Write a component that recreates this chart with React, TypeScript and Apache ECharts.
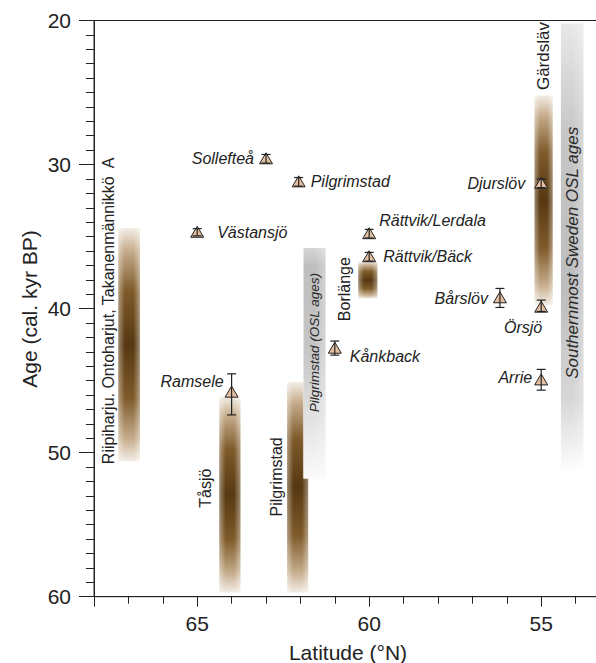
import React, { useEffect, useRef } from 'react';
import * as echarts from 'echarts';

// ---- Data ----
// Dated sites (triangles with error bars)
const siteNames = ['Sollefteå', 'Pilgrimstad', 'Västansjö', 'Rättvik/Lerdala', 'Rättvik/Bäck', 'Kånkback', 'Ramsele', 'Bårslöv', 'Örsjö', 'Djurslöv', 'Arrie'];
const siteLat = [63.0, 62.05, 65.0, 60.0, 60.0, 61.0, 64.0, 56.2, 55.0, 55.0, 55.0];
const siteAge = [29.6, 31.2, 34.7, 34.8, 36.4, 42.75, 45.8, 39.25, 39.9, 31.3, 44.95];
const siteErrMinus = [0.3, 0.3, 0.25, 0.3, 0.3, 0.5, 1.27, 0.65, 0.49, 0.3, 0.73];
const siteErrPlus = [0.3, 0.3, 0.25, 0.3, 0.3, 0.48, 1.58, 0.67, 0.3, 0.3, 0.71];

// Age ranges (brown gradient bars)
const rangeNames = ['Riipiharju. Ontoharjut, Takanenmännikkö  A', 'Tåsjö', 'Pilgrimstad', 'Borlänge', 'Gärdsläv'];
const rangeLat = [66.98, 64.05, 62.08, 60.04, 54.93];
const rangeAgeTop = [34.4, 46.1, 45.1, 36.75, 25.2];
const rangeAgeBottom = [50.6, 59.7, 59.7, 39.3, 39.75];
const rangeLabelAge = [40.16, 52.47, 51.68, 38.65, 22.47];

// OSL age ranges (grey gradient bars)
const oslNames = ['Pilgrimstad (OSL ages)', 'Southernmost Sweden OSL ages'];
const oslLat = [61.59, 54.1];
const oslAgeTop = [35.8, 20.2];
const oslAgeBottom = [51.8, 51.2];
const oslLabelAge = [42.36, 36.13];

// Axes
const latMin = 50;
const latMax = 68;
const latTickLabels = [65, 60, 55];
const ageMin = 20;
const ageMax = 60;

// ---- Style / placement (px) ----
const FONT = 'Liberation Sans, Arial, Helvetica, sans-serif';
const INK = '#222';
const PX_PER_DEG = 34.4;
const rangeWidthPx = [21.5, 21, 21, 19, 18];
const rangeLabelDx = [-21, -24, -21, -23, 0];
const rangeLabelSize = [16, 16, 16, 16, 17];
const oslWidthPx = [22, 22.5];
const oslLabelSize = [13.5, 17];
// label placement for sites: [dx, dy, align]
const sitePlacement: [number, number, string][] = [
  [-12, 0, 'right'],
  [12, 0, 'left'],
  [20, 0, 'left'],
  [10, -13, 'left'],
  [14, 0, 'left'],
  [15, 8, 'left'],
  [-8, -11, 'right'],
  [-12, 1, 'right'],
  [1, 20, 'right'],
  [-16, 0, 'right'],
  [-9, -2, 'right'],
];

const brownStops = [
  { offset: 0, color: '#f3ede5' },
  { offset: 0.1, color: '#c4ab8a' },
  { offset: 0.27, color: '#7f5b2b' },
  { offset: 0.5, color: '#573811' },
  { offset: 0.73, color: '#7f5b2b' },
  { offset: 0.9, color: '#c4ab8a' },
  { offset: 1, color: '#f3ede5' },
];
const greyStops = [
  [
    { offset: 0, color: '#d6d6d6' },
    { offset: 0.08, color: '#bebebe' },
    { offset: 0.45, color: '#c6c6c6' },
    { offset: 1, color: '#fbfbfb' },
  ],
  [
    { offset: 0, color: '#e8e8e8' },
    { offset: 0.25, color: '#c6c6c6' },
    { offset: 0.6, color: '#bdbdbd' },
    { offset: 0.85, color: '#d8d8d8' },
    { offset: 1, color: '#fdfdfd' },
  ],
];
const edgeStops = [
  { offset: 0, color: 'rgba(255,255,255,0.4)' },
  { offset: 0.3, color: 'rgba(255,255,255,0)' },
  { offset: 0.7, color: 'rgba(255,255,255,0)' },
  { offset: 1, color: 'rgba(255,255,255,0.4)' },
];

export default function App() {
  const ref = useRef<HTMLDivElement>(null);

  useEffect(() => {
    if (!ref.current) return;
    const chart = echarts.init(ref.current, undefined, { renderer: 'svg' });

    const rangeData = rangeLat.map((lat, i) => [lat, rangeAgeTop[i], rangeAgeBottom[i]]);
    const oslData = oslLat.map((lat, i) => [lat, oslAgeTop[i], oslAgeBottom[i]]);
    const siteData = siteLat.map((lat, i) => [lat, siteAge[i], siteAge[i] - siteErrMinus[i], siteAge[i] + siteErrPlus[i]]);
    const rangeLabelData = rangeLat.map((lat, i) => [lat, rangeLabelAge[i]]);
    const oslLabelData = oslLat.map((lat, i) => [lat, oslLabelAge[i]]);

    const axisCommon = {
      type: 'value' as const,
      min: latMin,
      max: latMax,
      inverse: true,
      splitLine: { show: false },
      axisLine: { show: true, lineStyle: { color: INK, width: 1 } },
    };

    chart.setOption({
      animation: false,
      backgroundColor: '#fff',
      grid: {
        left: 94,
        width: (latMax - latMin) * PX_PER_DEG,
        top: 20.5,
        height: 576.2,
        outerBoundsMode: 'none',
        containLabel: false,
        show: true,
        borderColor: INK,
        borderWidth: 1,
        backgroundColor: 'transparent',
      },
      xAxis: [
        {
          ...axisCommon,
          position: 'bottom',
          interval: 1,
          axisTick: { show: true, length: 7, lineStyle: { color: INK } },
          axisLabel: { show: false },
        },
        {
          ...axisCommon,
          position: 'bottom',
          interval: 5,
          axisTick: { show: true, length: 10, lineStyle: { color: INK } },
          axisLabel: {
            show: true,
            margin: 16,
            fontSize: 21,
            color: INK,
            fontFamily: FONT,
            formatter: (v: number) => (latTickLabels.indexOf(v) >= 0 ? String(v) : ''),
          },
        },
      ],
      yAxis: {
        type: 'value',
        min: ageMin,
        max: ageMax,
        interval: 10,
        inverse: true,
        splitLine: { show: false },
        axisLine: { show: true, lineStyle: { color: INK, width: 1 } },
        axisTick: { show: true, length: 15, lineStyle: { color: INK } },
        minorTick: { show: true, splitNumber: 10, length: 8, lineStyle: { color: INK } },
        minorSplitLine: { show: false },
        axisLabel: { margin: 23, fontSize: 21, color: INK, fontFamily: FONT },
      },
      graphic: [
        {
          type: 'text',
          x: 348,
          y: 652,
          style: { text: 'Latitude (°N)', font: `21px ${FONT}`, fill: INK, align: 'center', verticalAlign: 'middle' },
        },
        {
          type: 'text',
          x: 29,
          y: 309,
          rotation: Math.PI / 2,
          style: { text: 'Age (cal. kyr BP)', font: `21px ${FONT}`, fill: INK, align: 'center', verticalAlign: 'middle' },
        },
      ],
      series: [
        {
          type: 'custom',
          name: 'ranges',
          z: 2,
          xAxisIndex: 0,
          yAxisIndex: 0,
          data: rangeData,
          encode: { x: 0, y: [1, 2] },
          renderItem: (params: any, api: any) => {
            const i = params.dataIndex;
            const p0 = api.coord([api.value(0), api.value(1)]);
            const p1 = api.coord([api.value(0), api.value(2)]);
            const w = rangeWidthPx[i];
            const shape = { x: p0[0] - w / 2, y: p0[1], width: w, height: p1[1] - p0[1] };
            return {
              type: 'group',
              children: [
                { type: 'rect', shape, style: { fill: new echarts.graphic.LinearGradient(0, 0, 0, 1, brownStops) } },
                { type: 'rect', shape, style: { fill: new echarts.graphic.LinearGradient(0, 0, 1, 0, edgeStops) } },
              ],
            };
          },
        },
        {
          type: 'custom',
          name: 'osl',
          z: 3,
          xAxisIndex: 0,
          yAxisIndex: 0,
          data: oslData,
          encode: { x: 0, y: [1, 2] },
          renderItem: (params: any, api: any) => {
            const i = params.dataIndex;
            const p0 = api.coord([api.value(0), api.value(1)]);
            const p1 = api.coord([api.value(0), api.value(2)]);
            const w = oslWidthPx[i];
            const shape = { x: p0[0] - w / 2, y: p0[1], width: w, height: p1[1] - p0[1] };
            return {
              type: 'group',
              children: [
                { type: 'rect', shape, style: { fill: '#fff' } },
                { type: 'rect', shape, style: { fill: new echarts.graphic.LinearGradient(0, 0, 0, 1, greyStops[i]) } },
                { type: 'rect', shape: { ...shape, x: shape.x + w * 0.5, width: w * 0.5 }, style: { fill: new echarts.graphic.LinearGradient(0, 0, 1, 0, [
                  { offset: 0, color: 'rgba(255,255,255,0)' },
                  { offset: 1, color: 'rgba(255,255,255,0.3)' },
                ]) } },
              ],
            };
          },
        },
        {
          type: 'custom',
          name: 'rangeLabels',
          z: 5,
          xAxisIndex: 0,
          yAxisIndex: 0,
          data: rangeLabelData,
          encode: { x: 0, y: 1 },
          renderItem: (params: any, api: any) => {
            const i = params.dataIndex;
            const p = api.coord([api.value(0), api.value(1)]);
            return {
              type: 'text',
              x: p[0] + rangeLabelDx[i],
              y: p[1],
              rotation: Math.PI / 2,
              style: {
                text: rangeNames[i],
                font: `${rangeLabelSize[i]}px ${FONT}`,
                fill: INK,
                align: 'center',
                verticalAlign: 'middle',
              },
            };
          },
        },
        {
          type: 'custom',
          name: 'oslLabels',
          z: 5,
          xAxisIndex: 0,
          yAxisIndex: 0,
          data: oslLabelData,
          encode: { x: 0, y: 1 },
          renderItem: (params: any, api: any) => {
            const i = params.dataIndex;
            const p = api.coord([api.value(0), api.value(1)]);
            return {
              type: 'text',
              x: p[0],
              y: p[1],
              rotation: Math.PI / 2,
              style: {
                text: oslNames[i],
                font: `italic ${oslLabelSize[i]}px ${FONT}`,
                fill: '#2a2a2a',
                align: 'center',
                verticalAlign: 'middle',
              },
            };
          },
        },
        {
          type: 'custom',
          name: 'sites',
          z: 4,
          xAxisIndex: 0,
          yAxisIndex: 0,
          data: siteData,
          encode: { x: 0, y: [1, 2, 3] },
          renderItem: (params: any, api: any) => {
            const i = params.dataIndex;
            const p = api.coord([api.value(0), api.value(1)]);
            const lo = api.coord([api.value(0), api.value(2)]);
            const hi = api.coord([api.value(0), api.value(3)]);
            const cap = 4.5;
            const x = p[0];
            const y = p[1];
            const pl = sitePlacement[i];
            const lineStyle = { stroke: INK, lineWidth: 1.2 };
            return {
              type: 'group',
              children: [
                {
                  type: 'polygon',
                  shape: { points: [[x, y - 6], [x - 6.5, y + 5], [x + 6.5, y + 5]] },
                  style: { fill: '#e4bfa0', stroke: INK, lineWidth: 1 },
                },
                { type: 'line', shape: { x1: x, y1: lo[1], x2: x, y2: hi[1] }, style: lineStyle },
                { type: 'line', shape: { x1: x - cap, y1: lo[1], x2: x + cap, y2: lo[1] }, style: lineStyle },
                { type: 'line', shape: { x1: x - cap, y1: hi[1], x2: x + cap, y2: hi[1] }, style: lineStyle },
                {
                  type: 'text',
                  x: x + pl[0],
                  y: y + pl[1],
                  style: {
                    text: siteNames[i],
                    font: `italic 16px ${FONT}`,
                    fill: INK,
                    align: pl[2],
                    verticalAlign: 'middle',
                  },
                },
              ],
            };
          },
        },
      ],
    });

    return () => chart.dispose();
  }, []);

  return (
    <div
      ref={ref}
      style={{ position: 'fixed', left: 0, top: 0, width: 596, height: 663, background: '#fff' }}
    />
  );
}
